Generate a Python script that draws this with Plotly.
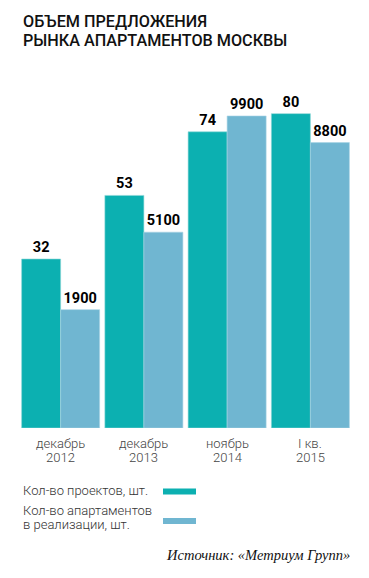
import plotly.graph_objects as go

# ---- data ----
categories = ["декабрь<br>2012", "декабрь<br>2013", "ноябрь<br>2014", "I кв.<br>2015"]
projects = [32, 53, 74, 80]
apartments = [1900, 5100, 9900, 8800]
series_names = ["Кол-во проектов, шт.", "Кол-во апартаментов<br>в реализации, шт."]
title_lines = ["ОБЪЕМ ПРЕДЛОЖЕНИЯ", "РЫНКА АПАРТАМЕНТОВ МОСКВЫ"]
source_text = "Источник: «Метриум Групп»"

# ---- styling / layout ----
W, H = 369, 578
L, R, T, B = 19, 17, 100, 150
TEAL = "#0cb0b1"
BLUE = "#70b6d1"

# axis ranges (the original chart's bars start below zero value)
P_RANGE = [-23.8, 84.5]
A_RANGE = [-2990, 10560]

plot_h = H - T - B
plot_w = W - L - R


def py(ypx):
    return (H - B - ypx) / plot_h


def px(xpx):
    return (xpx - L) / plot_w


fig = go.Figure()
fig.add_trace(go.Bar(
    x=categories, y=[v - P_RANGE[0] for v in projects], base=P_RANGE[0],
    text=[str(v) for v in projects], textposition="outside",
    textfont=dict(family="Roboto", size=14.5, color="#000", weight="bold"),
    marker=dict(color=TEAL, line=dict(color="#8fd6d6", width=0.6)),
    yaxis="y", offsetgroup="1", alignmentgroup="a", cliponaxis=False,
    hoverinfo="skip", showlegend=False,
))
fig.add_trace(go.Bar(
    x=categories, y=[v - A_RANGE[0] for v in apartments], base=A_RANGE[0],
    text=[str(v) for v in apartments], textposition="outside",
    textfont=dict(family="Roboto", size=14.5, color="#000", weight="bold"),
    marker=dict(color=BLUE, line=dict(color="#a8d4e4", width=0.6)),
    yaxis="y2", offsetgroup="2", alignmentgroup="a", cliponaxis=False,
    hoverinfo="skip", showlegend=False,
))

annotations = []
for i, line in enumerate(title_lines):
    annotations.append(dict(
        text=line, xref="paper", yref="paper", x=px(21), y=py(21.5 + i * 19.5),
        xanchor="left", yanchor="middle", showarrow=False,
        font=dict(family="Roboto", size=16.2, color="#111", weight=500),
    ))

# category labels (two lines each, tighter line spacing than axis ticks)
for cat in categories:
    for j, part in enumerate(cat.split("<br>")):
        annotations.append(dict(
            text=part, xref="x", yref="paper", x=cat, y=py(443 + j * 14.8),
            xanchor="center", yanchor="middle", showarrow=False,
            font=dict(family="Roboto", size=13, color="#444", weight=300),
        ))

legend_rows = [(series_names[0], 490, 491.5, TEAL), (series_names[1], 510.5, 521, BLUE)]
shapes = []
for name, ty, sy, col in legend_rows:
    for j, part in enumerate(name.split("<br>")):
        annotations.append(dict(
            text=part, xref="paper", yref="paper", x=px(21), y=py(ty + j * 14.3),
            xanchor="left", yanchor="middle", align="left", showarrow=False,
            font=dict(family="Roboto", size=13, color="#333", weight=300),
        ))
    shapes.append(dict(
        type="rect", xref="paper", yref="paper",
        x0=px(163), x1=px(196), y0=py(sy - 3), y1=py(sy + 3),
        fillcolor=col, line=dict(width=0),
    ))

annotations.append(dict(
    text=source_text, xref="paper", yref="paper", x=px(352.5), y=py(555),
    xanchor="right", yanchor="middle", showarrow=False,
    font=dict(family="Liberation Serif", size=14.5, color="#111", style="italic"),
))

fig.update_layout(
    width=W, height=H,
    margin=dict(l=L, r=R, t=T, b=B, pad=0),
    paper_bgcolor="white", plot_bgcolor="white",
    barmode="group", bargap=0.063, bargroupgap=0,
    xaxis=dict(showgrid=False, zeroline=False, showline=False, ticks="",
               showticklabels=False),
    yaxis=dict(range=P_RANGE, visible=False, showgrid=False),
    yaxis2=dict(range=A_RANGE, visible=False, showgrid=False,
                overlaying="y", side="right"),
    annotations=annotations, shapes=shapes,
)

fig.write_html("out.html", config={"displayModeBar": False},
               post_script="document.body.style.margin='0';")
